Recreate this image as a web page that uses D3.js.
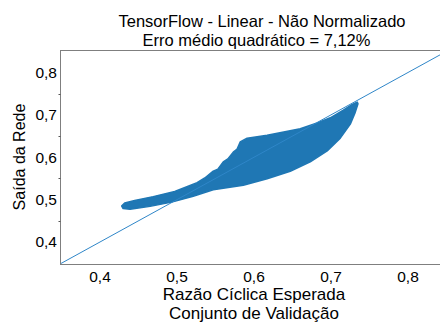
<!DOCTYPE html>
<html>
<head>
<meta charset="utf-8">
<script src="https://cdn.jsdelivr.net/npm/d3@7"></script>
<style>
  html, body { margin: 0; padding: 0; background: #fff; }
  svg { display: block; }
</style>
</head>
<body>
<svg id="chart" width="440" height="323"></svg>
<script>
// ---- data ----
const titleLines = ["TensorFlow - Linear - Não Normalizado", "Erro médio quadrático = 7,12%"];
const xLabelLines = ["Razão Cíclica Esperada", "Conjunto de Validação"];
const yLabel = "Saída da Rede";
const xTicks = [0.4, 0.5, 0.6, 0.7, 0.8];
const yTicks = [0.4, 0.5, 0.6, 0.7, 0.8];
const tickText = ["0,4", "0,5", "0,6", "0,7", "0,8"];
// outline of the dense scatter cloud: upper edge (left -> right)
const upperX = [0.428, 0.432, 0.445, 0.469, 0.497, 0.526, 0.536, 0.547, 0.553, 0.560, 0.566, 0.573, 0.578, 0.582, 0.591, 0.617, 0.660, 0.682, 0.699, 0.716, 0.727, 0.734];
const upperY = [0.485, 0.492, 0.498, 0.507, 0.519, 0.540, 0.551, 0.567, 0.572, 0.589, 0.596, 0.612, 0.619, 0.636, 0.645, 0.652, 0.667, 0.681, 0.693, 0.711, 0.724, 0.730];
// lower edge (right -> left)
const lowerX = [0.735, 0.731, 0.725, 0.712, 0.695, 0.673, 0.647, 0.617, 0.586, 0.547, 0.521, 0.493, 0.465, 0.439, 0.430];
const lowerY = [0.726, 0.704, 0.678, 0.645, 0.615, 0.589, 0.567, 0.549, 0.534, 0.523, 0.508, 0.494, 0.484, 0.477, 0.479];
// reference line y = x
const refLine = [0.348, 0.9];

const FONT = "'Liberation Sans', Arial, sans-serif";

// ---- layout ----
const svg = d3.select("#chart").attr("font-family", FONT);
const L = 60, T = 50, B = 264, R = 464;
const x = d3.scaleLinear().domain([0.348, 0.348 + (R - L) / 770]).range([L, R]);
const y = d3.scaleLinear().domain([0.348, 0.853]).range([B, T]);

svg.append("defs").append("clipPath").attr("id", "clip")
  .append("rect").attr("x", L).attr("y", T).attr("width", R - L).attr("height", B - T);

const plot = svg.append("g").attr("clip-path", "url(#clip)");

// scatter cloud
const cloud = upperX.map((v, i) => [v, upperY[i]]).concat(lowerX.map((v, i) => [v, lowerY[i]]));
plot.append("path")
  .datum(cloud)
  .attr("d", d3.line().x(d => x(d[0])).y(d => y(d[1])).curve(d3.curveLinearClosed))
  .attr("fill", "#1f77b4")
  .attr("stroke", "#1f77b4")
  .attr("stroke-width", 1.5)
  .attr("stroke-linejoin", "round");

// y = x line
plot.append("path")
  .datum(refLine.map(v => [v, v]))
  .attr("d", d3.line().x(d => x(d[0])).y(d => y(d[1])))
  .attr("fill", "none")
  .attr("stroke", "#2f86c8")
  .attr("stroke-width", 1);

// frame
svg.append("rect")
  .attr("x", L + 0.5).attr("y", T + 0.5).attr("width", R - L).attr("height", B - T)
  .attr("fill", "none").attr("stroke", "#7f7f7f").attr("stroke-width", 1);

// faint minor marks on left spine
const minor = [0.45, 0.55, 0.65, 0.75];
svg.selectAll(".minor").data(minor).enter().append("line")
  .attr("x1", L - 1.5).attr("x2", L + 0.5)
  .attr("y1", d => Math.round(y(d)) + 0.5).attr("y2", d => Math.round(y(d)) + 0.5)
  .attr("stroke", "#555").attr("stroke-width", 1);

// tick labels
svg.selectAll(".xt").data(xTicks).enter().append("text")
  .attr("x", d => x(d)).attr("y", 282)
  .attr("text-anchor", "middle").attr("font-size", 15.5)
  .text((d, i) => tickText[i]);

svg.selectAll(".yt").data(yTicks).enter().append("text")
  .attr("x", 57).attr("y", d => y(d)).attr("dy", "0.35em")
  .attr("text-anchor", "end").attr("font-size", 15.5)
  .text((d, i) => tickText[i]);

// titles
svg.append("text").attr("x", 262).attr("y", 27).attr("text-anchor", "middle")
  .attr("font-size", 16.5).text(titleLines[0]);
svg.append("text").attr("x", 256.5).attr("y", 45.5).attr("text-anchor", "middle")
  .attr("font-size", 16.5).text(titleLines[1]);

// axis labels
svg.append("text").attr("x", 254).attr("y", 300).attr("text-anchor", "middle")
  .attr("font-size", 17).text(xLabelLines[0]);
svg.append("text").attr("x", 254).attr("y", 319).attr("text-anchor", "middle")
  .attr("font-size", 17).text(xLabelLines[1]);

svg.append("text").attr("transform", "translate(25,157) rotate(-90)")
  .attr("text-anchor", "middle").attr("font-size", 16).text(yLabel);
</script>
</body>
</html>
